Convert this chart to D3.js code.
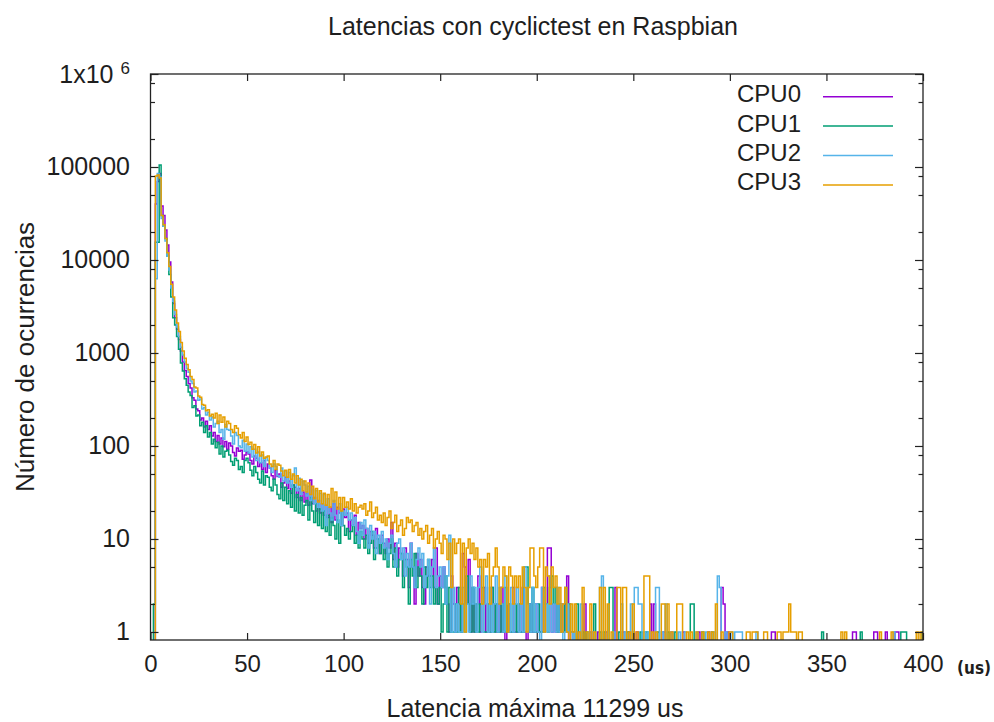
<!DOCTYPE html>
<html>
<head>
<meta charset="utf-8">
<script src="https://cdn.jsdelivr.net/npm/d3@7"></script>
<style>
  body { margin: 0; background: #fff; }
  text { font-family: "Liberation Sans", Arial, sans-serif; fill: #1e1e1e; }
</style>
</head>
<body>
<svg id="chart" width="994" height="722"></svg>
<script>

// series names and gnuplot default colours
const cpuNames = ["CPU0", "CPU1", "CPU2", "CPU3"];
const cpuColors = ["#9400d3", "#009e73", "#56b4e9", "#e69f00"];

const xTicks = [0, 50, 100, 150, 200, 250, 300, 350, 400];
const yTicks = [1, 10, 100, 1000, 10000, 100000, 1000000];
const yTickLabels = ["1", "10", "100", "1000", "10000", "100000", "1x10^6"];
const yMinorSteps = [2, 5, 8];

// occurrences per latency bin (us), bins 0..219
const cpu0Head = [
  0, 0, 0, 40000, 70000, 85000, 38000, 30000, 21000, 14500,
  9500, 5800, 3400, 2400, 1800, 1400, 1050, 800, 650, 560,
  470, 420, 330, 310, 250, 240, 190, 200, 160, 185,
  150, 165, 128, 140, 112, 130, 105, 122, 98, 112,
  92, 108, 100, 85, 78, 95, 88, 90, 72, 80,
  86, 82, 70, 64, 78, 74, 60, 66, 56, 70,
  52, 64, 58, 48, 44, 55, 47, 50, 36, 40,
  46, 35, 42, 31, 38, 36, 28, 35, 26, 32,
  25, 31, 23, 43, 24, 28, 20, 26, 19, 24,
  18, 23, 17, 22, 15, 24, 16, 22, 19, 14,
  21, 17, 19, 12, 16, 14, 18, 11, 15, 13,
  14, 10, 13, 9, 12, 11, 8, 13, 10, 7,
  11, 9, 7, 10, 8, 15, 6, 9, 5, 8,
  7, 4, 8, 6, 3, 9, 5, 2, 7, 4,
  6, 3, 2, 5, 4, 4, 6, 3, 8, 2,
  4, 3, 5, 3, 2, 1, 4, 2, 1, 3,
  2, 1, 7, 5, 2, 6, 1, 3, 1, 2,
  4, 1, 2, 3, 1, 2, 1, 3, 2, 1,
  2, 1, 3, 1, 0, 2, 1, 1, 3, 1,
  1, 2, 1, 3, 1, 0, 1, 2, 1, 1,
  2, 1, 1, 3, 1, 2, 8, 8, 1, 2,
  1, 2, 1, 2, 1, 2, 4, 0, 1, 1
];
const cpu1Head = [
  0, 0, 2, 15500, 15500, 105000, 30000, 23000, 17000, 11000,
  7000, 4000, 2400, 2000, 1500, 1100, 780, 640, 530, 450,
  380, 350, 260, 270, 210, 215, 165, 180, 140, 165,
  125, 140, 105, 118, 96, 110, 82, 100, 76, 88,
  90, 80, 68, 62, 74, 70, 56, 60, 52, 70,
  74, 66, 55, 48, 60, 52, 44, 40, 54, 38,
  48, 46, 36, 33, 44, 38, 30, 27, 40, 26,
  36, 24, 33, 22, 38, 20, 30, 19, 28, 18,
  23, 26, 16, 28, 20, 15, 24, 14, 21, 13,
  20, 12, 18, 11, 17, 14, 10, 16, 9, 20,
  14, 11, 13, 10, 12, 14, 9, 11, 8, 12,
  10, 8, 11, 7, 9, 12, 6, 8, 10, 7,
  9, 6, 8, 5, 7, 10, 5, 8, 4, 6,
  7, 3, 6, 5, 2, 6, 4, 7, 3, 5,
  4, 2, 5, 3, 6, 3, 4, 2, 3, 2,
  3, 1, 2, 4, 1, 3, 1, 1, 2, 1,
  3, 1, 2, 1, 4, 2, 1, 3, 1, 2,
  1, 2, 3, 1, 1, 2, 1, 3, 1, 2,
  1, 1, 2, 1, 3, 1, 2, 1, 1, 2,
  1, 2, 1, 1, 5, 5, 2, 1, 3, 1,
  1, 2, 1, 1, 3, 2, 1, 3, 4, 2,
  3, 1, 2, 1, 1, 3, 1, 2, 1, 1
];
const cpu2Head = [
  0, 0, 0, 6300, 85000, 78000, 28000, 23000, 16000, 11000,
  7800, 5000, 3600, 2600, 1900, 1500, 1150, 950, 800, 680,
  620, 500, 470, 380, 390, 310, 320, 250, 260, 215,
  230, 190, 205, 160, 175, 185, 140, 150, 118, 170,
  150, 148, 128, 105, 140, 130, 100, 96, 115, 88,
  105, 84, 98, 76, 92, 70, 86, 66, 80, 60,
  75, 70, 58, 52, 64, 60, 48, 46, 58, 42,
  54, 40, 52, 36, 48, 58, 33, 45, 30, 42,
  38, 29, 37, 26, 34, 24, 33, 22, 31, 20,
  30, 14, 27, 19, 16, 26, 18, 15, 24, 14,
  20, 18, 22, 16, 19, 14, 17, 12, 9, 15,
  11, 16, 13, 8, 14, 10, 12, 7, 11, 9,
  12, 8, 10, 6, 9, 11, 7, 5, 9, 10,
  6, 8, 4, 7, 5, 9, 5, 3, 6, 8,
  5, 7, 3, 4, 6, 2, 5, 8, 3, 4,
  5, 3, 5, 2, 4, 11, 1, 3, 1, 2,
  1, 1, 3, 1, 2, 1, 4, 2, 3, 1,
  3, 5, 1, 2, 4, 1, 3, 1, 2, 4,
  1, 3, 2, 1, 4, 2, 1, 3, 1, 2,
  3, 1, 2, 1, 5, 1, 2, 1, 3, 1,
  2, 1, 0, 3, 1, 2, 1, 4, 1, 2,
  1, 3, 1, 2, 0, 1, 2, 1, 1, 0
];
const cpu3Head = [
  0, 0, 0, 80000, 82000, 76000, 30000, 24000, 17000, 12000,
  8500, 5500, 4000, 2900, 2100, 1700, 1300, 1050, 880, 750,
  660, 560, 520, 430, 420, 345, 335, 280, 275, 240,
  245, 210, 220, 200, 225, 175, 215, 180, 205, 160,
  185, 175, 150, 140, 165, 155, 132, 122, 140, 112,
  125, 104, 110, 92, 104, 84, 98, 78, 86, 74,
  76, 78, 64, 60, 70, 56, 64, 62, 54, 48,
  55, 46, 56, 44, 50, 40, 48, 38, 44, 33,
  42, 32, 40, 30, 37, 27, 35, 25, 33, 24,
  31, 23, 30, 22, 35, 25, 32, 21, 28, 20,
  28, 22, 25, 21, 27, 20, 24, 19, 22, 23,
  21, 24, 18, 20, 25, 17, 19, 22, 16, 18,
  15, 19, 14, 17, 20, 13, 15, 18, 12, 14,
  16, 11, 13, 17, 15, 16, 12, 14, 15, 11,
  13, 10, 12, 14, 9, 11, 13, 8, 10, 12,
  9, 7, 11, 10, 6, 9, 3, 10, 7, 9,
  10, 2, 9, 1, 8, 10, 7, 9, 6, 8,
  5, 6, 2, 6, 5, 7, 2, 4, 5, 8,
  5, 2, 3, 5, 4, 1, 5, 4, 2, 4,
  3, 4, 2, 5, 3, 1, 3, 8, 8, 4,
  3, 5, 8, 8, 1, 5, 4, 2, 5, 3,
  4, 2, 3, 1, 2, 3, 1, 0, 2, 1
];

// sparse tail, [latency us, occurrences], all other bins are zero
const cpu0Tail = [
  [222, 1], [225, 2], [228, 1], [232, 1], [236, 1], [241, 3], [245, 1], [248, 1],
  [252, 1], [259, 2], [261, 2], [266, 1], [270, 1], [276, 1], [284, 1], [289, 1],
  [296, 3], [297, 2], [299, 1], [322, 1], [323, 1], [364, 1], [365, 1], [375, 1],
  [376, 1], [381, 1], [386, 1], [387, 1]
];
const cpu1Tail = [
  [221, 2], [224, 1], [226, 1], [230, 2], [233, 1], [235, 1], [238, 3], [239, 3],
  [243, 1], [247, 1], [250, 1], [254, 1], [257, 1], [263, 1], [268, 1], [272, 1],
  [280, 2], [281, 2], [286, 1], [291, 1], [348, 1], [368, 1], [389, 1], [390, 1],
  [391, 1], [400, 1]
];
const cpu2Tail = [
  [220, 1], [223, 2], [227, 1], [229, 1], [233, 3], [234, 4], [237, 1], [240, 1],
  [244, 2], [246, 1], [249, 2], [251, 3], [252, 3], [253, 2], [254, 2], [256, 1],
  [258, 1], [262, 3], [263, 3], [265, 1], [267, 2], [270, 1], [274, 1], [277, 1],
  [283, 1], [288, 1], [292, 1], [294, 4], [295, 3], [298, 1], [301, 1], [303, 1],
  [304, 1], [305, 1], [306, 1], [314, 1], [385, 1]
];
const cpu3Tail = [
  [220, 2], [222, 1], [224, 3], [226, 1], [228, 2], [230, 1], [233, 3], [235, 3],
  [237, 2], [239, 1], [242, 3], [243, 3], [245, 3], [246, 3], [248, 1], [250, 2],
  [252, 1], [256, 4], [257, 4], [258, 4], [260, 1], [262, 1], [265, 2], [266, 2],
  [268, 2], [270, 1], [273, 2], [274, 2], [275, 2], [278, 1], [280, 1], [283, 1],
  [286, 1], [289, 1], [291, 1], [293, 2], [296, 1], [300, 1], [301, 1], [309, 1],
  [310, 1], [312, 1], [313, 1], [314, 1], [318, 1], [319, 1], [325, 1], [326, 1],
  [328, 1], [329, 1], [330, 1], [331, 2], [332, 1], [333, 1], [334, 1], [336, 1],
  [337, 1], [358, 1], [360, 1], [378, 1], [384, 1], [397, 1], [399, 1]
];

const heads = [cpu0Head, cpu1Head, cpu2Head, cpu3Head];
const tails = [cpu0Tail, cpu1Tail, cpu2Tail, cpu3Tail];

// full 0..400 table for each cpu
const series = cpuNames.map((name, i) => {
    const counts = d3.range(0, 401).map(us => (us < heads[i].length ? heads[i][us] : 0));
    tails[i].forEach(([us, n]) => { counts[us] = n; });
    return { name: name, color: cpuColors[i], values: counts.map((n, us) => ({ us: us, n: n })) };
});


const plot = { left: 150.5, right: 923, top: 74, bottom: 640 };

const svg = d3.select("#chart");

const x = d3.scaleLinear().domain([0, 400]).range([plot.left, plot.right]);
const y = d3.scaleLog().domain([0.82, 1e6]).range([plot.bottom, plot.top]);

svg.append("defs").append("clipPath").attr("id", "plotClip")
    .append("rect")
    .attr("x", plot.left).attr("y", plot.top)
    .attr("width", plot.right - plot.left).attr("height", plot.bottom - plot.top);

// histogram steps, empty bins drop below the frame
const line = d3.line()
    .x(d => x(d.us))
    .y(d => (d.n > 0 ? y(d.n) : plot.bottom + 6))
    .curve(d3.curveStep);

svg.append("g")
    .attr("clip-path", "url(#plotClip)")
    .selectAll("path")
    .data(series)
    .enter()
    .append("path")
    .attr("fill", "none")
    .attr("stroke", d => d.color)
    .attr("stroke-width", 1.5)
    .attr("d", d => line(d.values));


// minor tick values on the log axis
const yMinor = [];
d3.range(0, 6).forEach(k => {
    yMinorSteps.forEach(m => yMinor.push(m * Math.pow(10, k)));
});

function styleAxis(g) {
    g.select(".domain").remove();
    g.selectAll(".tick line").attr("stroke", "#222").attr("stroke-width", 1.2);
    g.selectAll("text").style("font-size", "24px").attr("fill", "#1e1e1e");
}

// bottom axis
svg.append("g")
    .attr("transform", `translate(0,${plot.bottom})`)
    .call(d3.axisBottom(x).tickValues(xTicks).tickSize(-7).tickPadding(15).tickFormat(d3.format("d")))
    .call(styleAxis);

// top mirror ticks
svg.append("g")
    .attr("transform", `translate(0,${plot.top})`)
    .call(d3.axisTop(x).tickValues(xTicks).tickSize(-7).tickFormat(""))
    .call(styleAxis);

// left axis
const leftAxis = svg.append("g")
    .attr("transform", `translate(${plot.left},0)`)
    .call(d3.axisLeft(y).tickValues(yTicks).tickSize(-8).tickPadding(20.5)
        .tickFormat((d, i) => yTickLabels[i]))
    .call(styleAxis);
leftAxis.selectAll(".tick text").style("font-size", "25px");

// superscript for 1x10^6
leftAxis.selectAll(".tick text")
    .filter(function () { return this.textContent.indexOf("^") >= 0; })
    .each(function () {
        const parts = this.textContent.split("^");
        const t = d3.select(this).text(null);
        t.append("tspan").text(parts[0]);
        t.append("tspan").attr("dx", 7).attr("dy", -9).style("font-size", "17px").text(parts[1]);
    });

svg.append("g")
    .attr("transform", `translate(${plot.left},0)`)
    .call(d3.axisLeft(y).tickValues(yMinor).tickSize(-4.5).tickFormat(""))
    .call(styleAxis);

// right mirror ticks
svg.append("g")
    .attr("transform", `translate(${plot.right},0)`)
    .call(d3.axisRight(y).tickValues(yTicks).tickSize(-8).tickFormat(""))
    .call(styleAxis);
svg.append("g")
    .attr("transform", `translate(${plot.right},0)`)
    .call(d3.axisRight(y).tickValues(yMinor).tickSize(-4.5).tickFormat(""))
    .call(styleAxis);

// frame
svg.append("rect")
    .attr("x", plot.left).attr("y", plot.top)
    .attr("width", plot.right - plot.left).attr("height", plot.bottom - plot.top)
    .attr("fill", "none")
    .attr("stroke", "#222")
    .attr("stroke-width", 1.3);


// legend
const legend = svg.append("g").attr("class", "legend");
series.forEach((s, i) => {
    const ly = 96.7 + i * 29.4;
    legend.append("text")
        .attr("x", 801).attr("y", ly + 5.5)
        .attr("text-anchor", "end")
        .style("font-size", "24px")
        .text(s.name);
    legend.append("line")
        .attr("x1", 823).attr("x2", 893)
        .attr("y1", ly).attr("y2", ly)
        .attr("stroke", s.color)
        .attr("stroke-width", 1.5);
});


// titles
svg.append("text")
    .attr("x", 533).attr("y", 35)
    .attr("text-anchor", "middle")
    .style("font-size", "25px")
    .text("Latencias con cyclictest en Raspbian");

svg.append("text")
    .attr("x", 535).attr("y", 717)
    .attr("text-anchor", "middle")
    .style("font-size", "25px")
    .text("Latencia máxima 11299 us");

svg.append("text")
    .attr("transform", "translate(34,357) rotate(-90)")
    .attr("text-anchor", "middle")
    .style("font-size", "26px")
    .text("Número de ocurrencias");

svg.append("text")
    .attr("x", 974).attr("y", 674)
    .attr("text-anchor", "middle")
    .style("font-family", "'DejaVu Sans Condensed', 'DejaVu Sans', sans-serif")
    .style("font-weight", "bold")
    .style("font-stretch", "condensed")
    .style("font-size", "17px")
    .attr("fill", "#333")
    .text("(us)");

</script>
</body>
</html>
